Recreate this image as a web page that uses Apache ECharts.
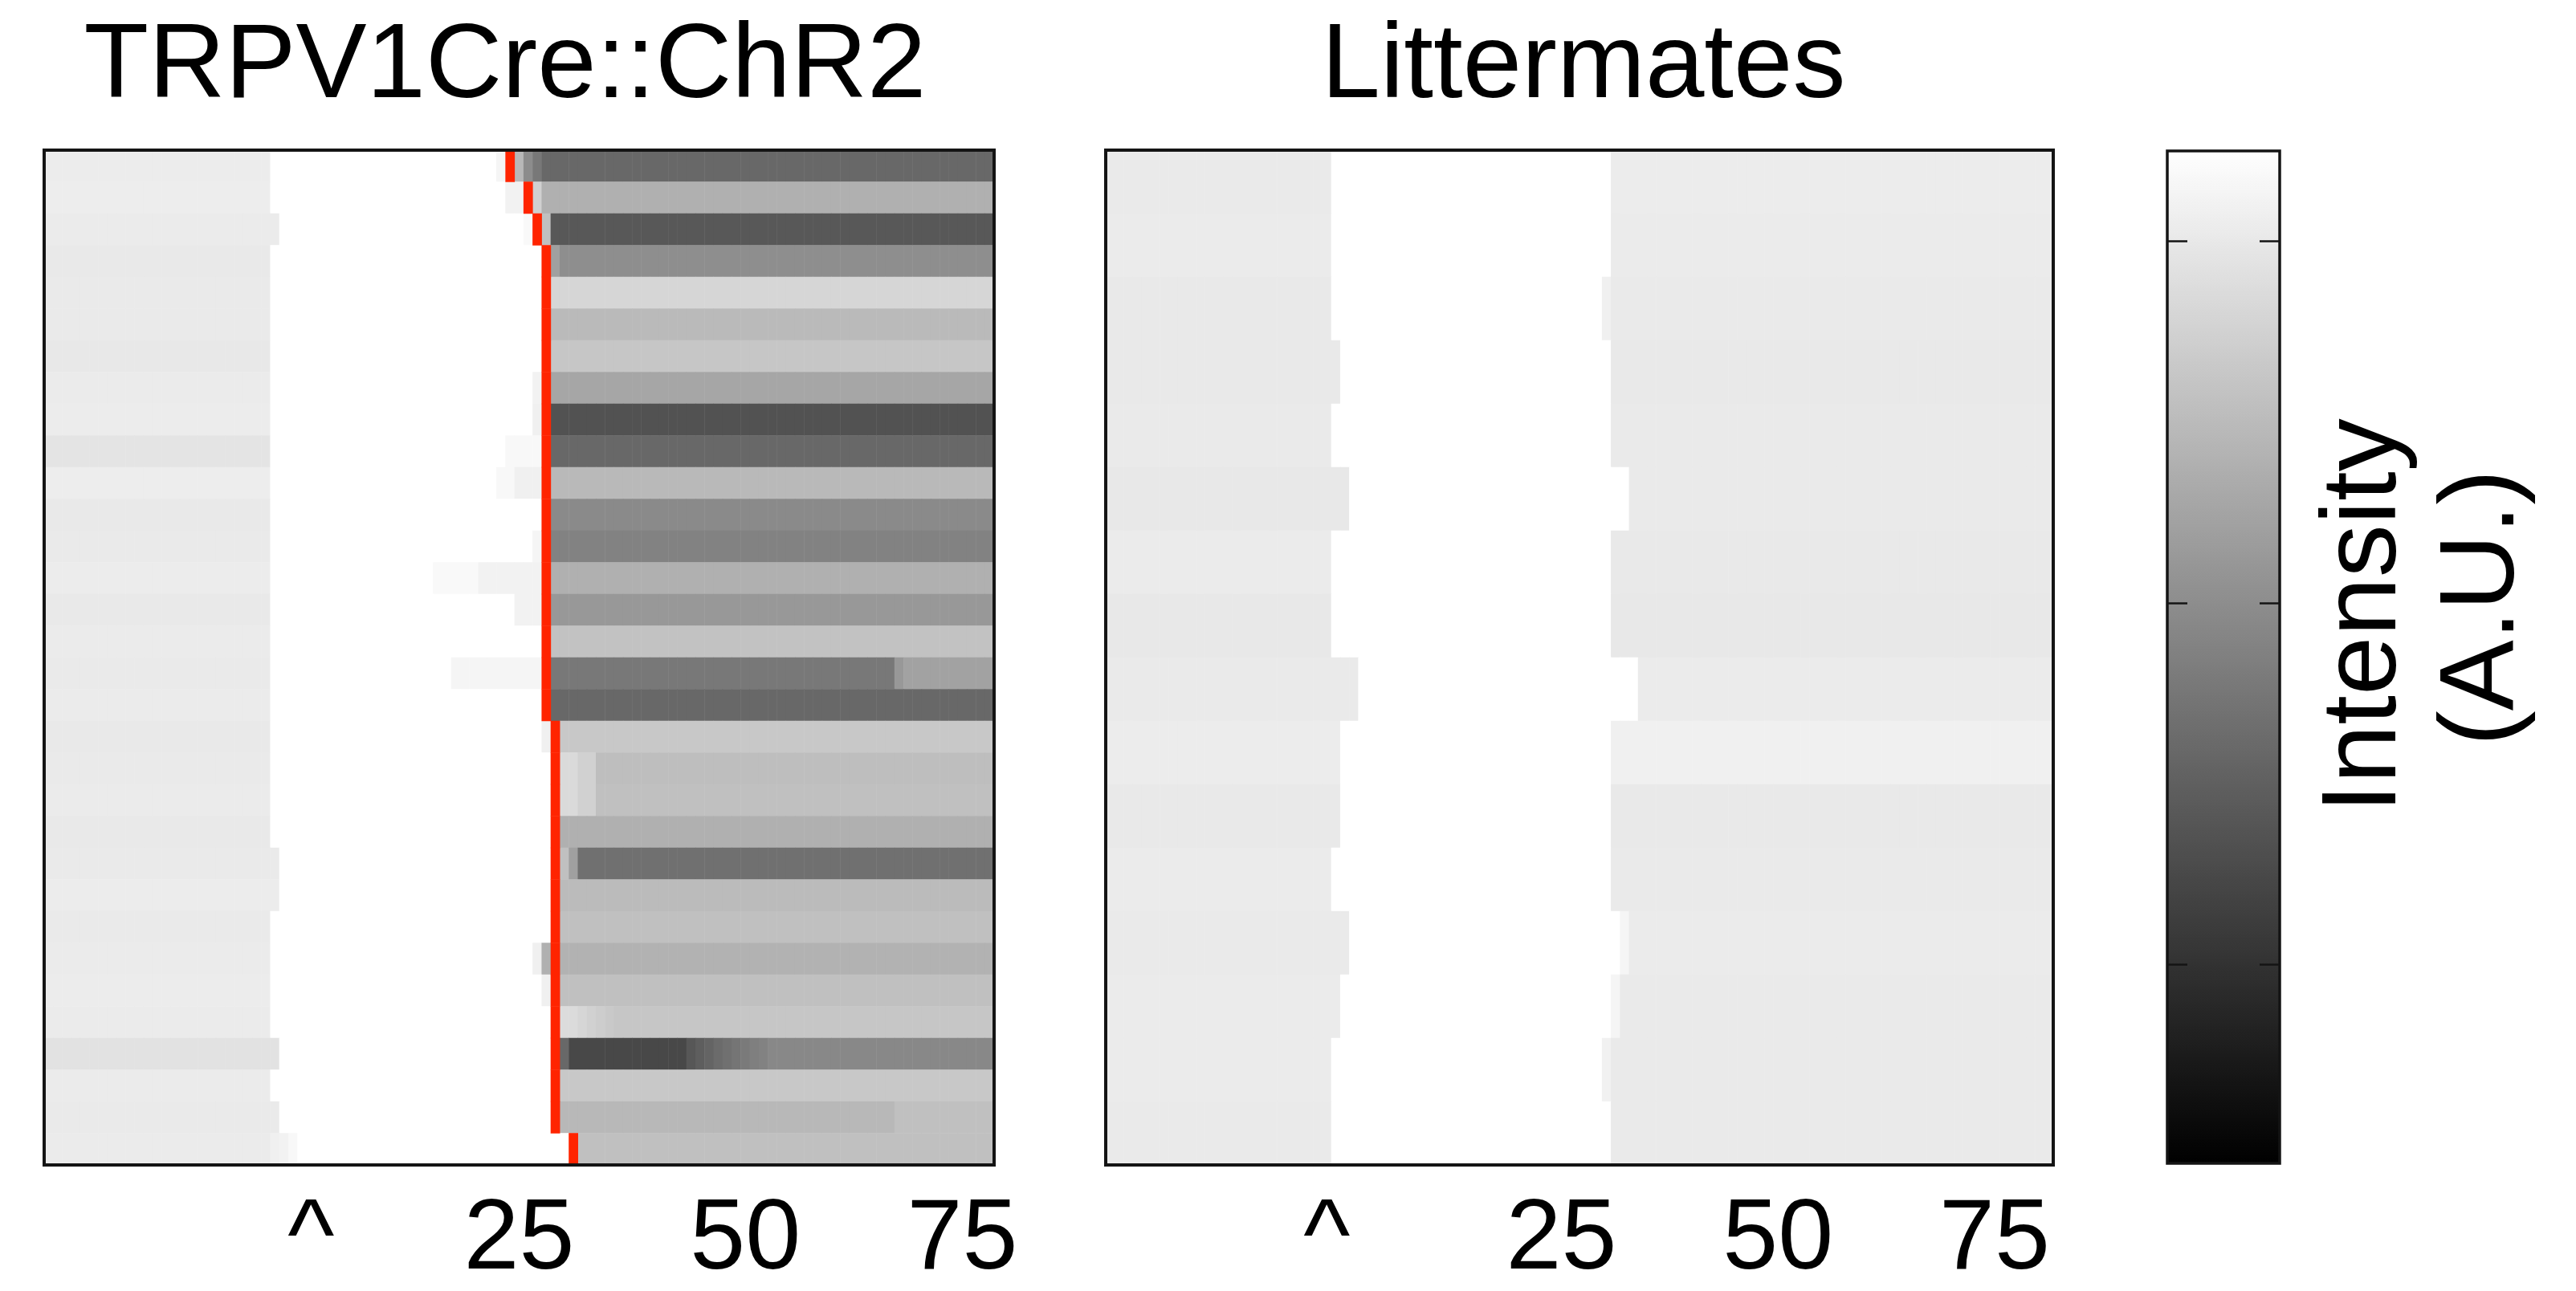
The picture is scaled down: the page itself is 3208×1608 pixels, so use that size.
<!DOCTYPE html>
<html>
<head>
<meta charset="utf-8">
<title>Response latency heatmaps</title>
<script src="https://cdn.jsdelivr.net/npm/echarts@6/dist/echarts.min.js"></script>
<style>
  html, body { margin: 0; padding: 0; background: #ffffff; }
  #chart { width: 3208px; height: 1608px; }
</style>
</head>
<body>
<div id="chart"></div>
<script>
// ---- frames (columns) shared by both panels ----
const FRAME_COUNT = 105;
const frames = Array.from({ length: FRAME_COUNT }, (_, i) => String(i));

// tick labels under each panel (frame index -> text)
const tickText = ['^', '25', '50', '75'];
const chr2TickFrames = [29, 52, 77, 101];
const litTickFrames = [24, 50, 74, 98];

// colour scale of the intensity bar (A.U.)
const scaleMin = -0.55;
const scaleMax = 2.25;
const scaleTicks = [0, 1, 2];
// value of the saturated frames during the light pulse
const SATURATED = 2.25;

// ---- TRPV1Cre::ChR2 : 32 trials ----
const chr2Trials = Array.from({ length: 32 }, (_, i) => String(i + 1));
// pre-pulse intensity per trial
const chr2Baseline = [2.04, 2.05, 2.03, 2.01, 2.02, 2.02, 2.00, 2.03, 2.04, 1.95, 2.05, 2.01, 2.02, 2.04, 2.01, 2.03,
                      2.02, 2.03, 2.01, 2.02, 2.03, 2.01, 2.02, 2.04, 2.02, 2.03, 2.04, 2.03, 1.93, 2.03, 2.02, 2.03];
// first saturated frame per trial
const chr2PulseStart = [25, 25, 26, 25, 25, 25, 25, 25, 25, 25, 25, 25, 25, 25, 25, 25,
                        25, 25, 25, 25, 25, 25, 26, 26, 25, 25, 25, 25, 26, 25, 26, 25];
// faint frames around the pulse edges: [from, to, value]
const chr2EdgeFrames = [
  [[50, 50, 2.14]],
  [[51, 52, 2.11]],
  [[53, 53, 2.18]],
  [], [], [], [],
  [[54, 54, 2.11]],
  [[54, 54, 2.08]],
  [[51, 54, 2.17]],
  [[50, 51, 2.17], [52, 54, 2.08]],
  [],
  [[54, 54, 2.14]],
  [[43, 47, 2.18], [48, 54, 2.11]],
  [[52, 54, 2.11]],
  [],
  [[45, 54, 2.14]],
  [],
  [[55, 55, 2.08]],
  [], [], [], [], [], [],
  [[54, 54, 2.08], [55, 55, 1.38]],
  [[55, 55, 2.08]],
  [], [], [], [],
  [[25, 25, 2.08], [26, 26, 2.11], [27, 27, 2.17]]
];
// response onset frame per trial (red marker)
const chr2Onset = [51, 53, 54, 55, 55, 55, 55, 55, 55, 55, 55, 55, 55, 55, 55, 55,
                   55, 55, 56, 56, 56, 56, 56, 56, 56, 56, 56, 56, 56, 56, 56, 58];
// post-onset intensity as runs [value, frames]; the last run lasts to the end
const chr2Response = [
  [[1.47, 1], [0.99, 1], [0.77, 1], [0.59]],
  [[1.73, 1], [1.38]],
  [[1.56, 1], [0.42]],
  [[1.21, 1], [1.01]],
  [[1.80]],
  [[1.49]],
  [[1.62]],
  [[1.27]],
  [[0.35]],
  [[0.59]],
  [[1.48]],
  [[0.97]],
  [[0.88]],
  [[1.38]],
  [[1.12]],
  [[1.58]],
  [[0.77, 38], [1.12, 1], [1.23]],
  [[0.59]],
  [[1.65]],
  [[1.84, 2], [1.75, 2], [1.54]],
  [[1.84, 2], [1.75, 2], [1.56]],
  [[1.38]],
  [[1.56, 1], [1.21, 1], [0.68]],
  [[1.50]],
  [[1.56]],
  [[1.40]],
  [[1.56]],
  [[1.87, 1], [1.85, 1], [1.80, 1], [1.75, 1], [1.70, 1], [1.66, 1], [1.62]],
  [[0.59, 1], [0.24, 13], [0.40, 1], [0.48, 1], [0.55, 1], [0.62, 1], [0.68, 1], [0.74, 1], [0.79, 1], [0.84, 1], [0.88, 1], [0.94]],
  [[1.65]],
  [[1.47, 37], [1.56]],
  [[1.56]]
];

// ---- Littermates : 16 trials ----
const litTrials = Array.from({ length: 16 }, (_, i) => String(i + 1));
const litBaseline = [2.02, 2.03, 2.01, 2.01, 2.02, 2.00, 2.03, 2.00, 2.02, 2.04, 2.01, 2.03, 2.02, 2.03, 2.03, 2.02];
const litAfter    = [2.04, 2.03, 2.02, 2.01, 2.02, 2.02, 2.01, 2.00, 2.03, 2.08, 2.01, 2.02, 2.03, 2.02, 2.02, 2.02];
const litPulseStart = [25, 25, 25, 26, 25, 27, 25, 25, 28, 26, 26, 25, 27, 26, 25, 25];
const litPulseEnd   = [56, 56, 55, 56, 56, 58, 56, 56, 59, 56, 56, 56, 58, 57, 55, 56];
// faint frames at the end of the pulse: [trial, frame, value]
const litEdgeFrames = [[12, 57, 2.14], [13, 56, 2.14], [14, 55, 2.10], [2, 55, 2.09]];

// ---- build cell tables ----
function chr2Cells() {
  const cells = [], onsets = [];
  chr2Trials.forEach((_, r) => {
    const row = new Array(FRAME_COUNT).fill(SATURATED);
    for (let c = 0; c < chr2PulseStart[r]; c++) row[c] = chr2Baseline[r];
    chr2EdgeFrames[r].forEach(([a, b, v]) => { for (let c = a; c <= b; c++) row[c] = v; });
    let c = chr2Onset[r] + 1;
    chr2Response[r].forEach(([v, n]) => {
      const end = n === undefined ? FRAME_COUNT : c + n;
      for (; c < end; c++) row[c] = v;
    });
    row.forEach((v, col) => { if (col !== chr2Onset[r]) cells.push([col, r, v]); });
    onsets.push([chr2Onset[r], r, 1]);
  });
  return { cells, onsets };
}

function litCells() {
  const cells = [];
  litTrials.forEach((_, r) => {
    const row = new Array(FRAME_COUNT).fill(SATURATED);
    for (let c = 0; c < litPulseStart[r]; c++) row[c] = litBaseline[r];
    for (let c = litPulseEnd[r]; c < FRAME_COUNT; c++) row[c] = litAfter[r];
    litEdgeFrames.filter(e => e[0] === r).forEach(([, col, v]) => { row[col] = v; });
    row.forEach((v, col) => cells.push([col, r, v]));
  });
  return cells;
}

const chr2 = chr2Cells();
const lit = litCells();

const FONT = '"Liberation Sans", Arial, Helvetica, sans-serif';
const FRAME_COLOR = '#141414';

function panelXAxis(gridIndex, tickFrames) {
  const lookup = new Map(tickFrames.map((f, i) => [f, tickText[i]]));
  return {
    type: 'category', gridIndex, data: frames, z: 6,
    axisLine: { show: false }, axisTick: { show: false }, splitLine: { show: false },
    axisLabel: {
      interval: (idx) => lookup.has(idx),
      formatter: (val, idx) => lookup.get(idx) || '',
      color: '#000', fontFamily: FONT, fontSize: 124, lineHeight: 124, margin: 33
    }
  };
}

function textItem(text, x, y, rotation) {
  return {
    type: 'text', x, y, rotation: rotation || 0, z: 20,
    style: {
      text, fill: '#000', fontSize: 132, fontFamily: FONT,
      align: 'center', verticalAlign: 'middle',
      textAlign: 'center', textVerticalAlign: 'middle'
    }
  };
}

const chart = echarts.init(document.getElementById('chart'), null, { renderer: 'canvas' });
chart.setOption({
  animation: false,
  backgroundColor: '#ffffff',
  grid: [
    { left: 55, top: 187, width: 1183, height: 1264, show: true, borderColor: FRAME_COLOR, borderWidth: 4, backgroundColor: 'transparent', z: 5 },
    { left: 1377, top: 187, width: 1180, height: 1264, show: true, borderColor: FRAME_COLOR, borderWidth: 4, backgroundColor: 'transparent', z: 5 },
    { left: 2699, top: 188, width: 140, height: 1261, show: true, borderColor: FRAME_COLOR, borderWidth: 3.5, backgroundColor: 'transparent', z: 10 }
  ],
  xAxis: [
    panelXAxis(0, chr2TickFrames),
    panelXAxis(1, litTickFrames),
    { type: 'value', gridIndex: 2, show: false, min: 0, max: 1 }
  ],
  yAxis: [
    { type: 'category', gridIndex: 0, data: chr2Trials, inverse: true, show: false },
    { type: 'category', gridIndex: 1, data: litTrials, inverse: true, show: false },
    {
      type: 'value', gridIndex: 2, position: 'left', min: scaleMin, max: scaleMax, z: 12,
      axisLine: { show: false }, splitLine: { show: false }, axisLabel: { show: false },
      axisTick: { show: true, inside: true, length: 25, customValues: scaleTicks, lineStyle: { color: FRAME_COLOR, width: 2.5 } }
    },
    {
      type: 'value', gridIndex: 2, position: 'right', min: scaleMin, max: scaleMax, z: 12,
      axisLine: { show: false }, splitLine: { show: false }, axisLabel: { show: false },
      axisTick: { show: true, inside: true, length: 25, customValues: scaleTicks, lineStyle: { color: FRAME_COLOR, width: 2.5 } }
    }
  ],
  visualMap: {
    type: 'continuous', min: scaleMin, max: scaleMax, seriesIndex: [0, 2],
    calculable: false, hoverLink: false, orient: 'vertical',
    left: 2699, top: 188, itemWidth: 140, itemHeight: 1261, padding: 0,
    inRange: { color: ['#000000', '#ffffff'] }, z: 4
  },
  series: [
    {
      name: 'TRPV1Cre::ChR2', type: 'heatmap', xAxisIndex: 0, yAxisIndex: 0,
      data: chr2.cells, progressive: 0, emphasis: { disabled: true }
    },
    {
      name: 'onset', type: 'heatmap', xAxisIndex: 0, yAxisIndex: 0,
      data: chr2.onsets, progressive: 0, emphasis: { disabled: true },
      itemStyle: { color: '#ff2400' }
    },
    {
      name: 'Littermates', type: 'heatmap', xAxisIndex: 1, yAxisIndex: 1,
      data: lit, progressive: 0, emphasis: { disabled: true }
    }
  ],
  graphic: [
    textItem('TRPV1Cre::ChR2', 629, 85),
    textItem('Littermates', 1972, 85),
    textItem('Intensity', 2947, 767, Math.PI / 2),
    textItem('(A.U.)', 3094, 757, Math.PI / 2)
  ]
});
</script>
</body>
</html>
